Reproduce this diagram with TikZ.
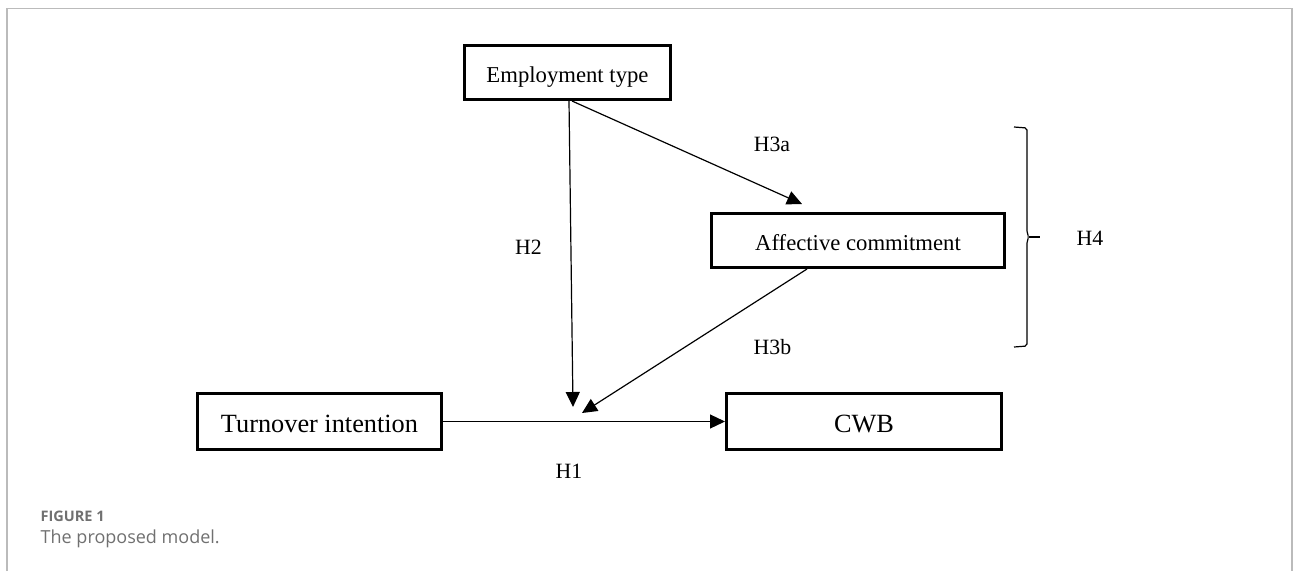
\documentclass[tikz,border=0pt]{standalone}
\usepackage{fontspec}
\setmainfont{Liberation Serif}
\newfontfamily\captionfont{Open Sans}
\usetikzlibrary{arrows.meta}
\definecolor{frameGray}{HTML}{BBBBBB}
\definecolor{captionGray}{HTML}{707070}

\begin{document}
\begin{tikzpicture}
[x=1pt,y=-1pt,
  boxDecorate/.style={draw,line width=2.8pt,inner sep=0pt,text depth=0pt},
  smallBox/.style={boxDecorate,text height=20.4pt,font=\fontsize{22.7}{27}\selectfont},
  largeBox/.style={boxDecorate,text height=21.6pt,font=\fontsize{26.3}{31}\selectfont},
  lineDecorate/.style={-{Triangle[length=15pt,width=14pt]},line width=1.2pt},
  labelDecorate/.style={inner sep=0pt,font=\fontsize{21.8}{26}\selectfont},
  captionDecorate/.style={anchor=base west,inner sep=0pt,text=captionGray}]
\useasboundingbox (0,0) rectangle (1293,571);
%% frame
\draw[draw=frameGray,line width=1.3pt] (7,571) -- (7,8.5) -- (1292,8.5) -- (1292,571);
%% boxes
\node (emp) at (567.5,72.5) [smallBox,minimum width=206.2pt,minimum height=54.2pt] {Employment type};
\node (aff) at (858,240.5) [smallBox,minimum width=293.2pt,minimum height=54.2pt] {Affective commitment};
\node (turn) at (319.5,421.5) [largeBox,minimum width=244.2pt,minimum height=56.2pt] {Turnover intention};
\node (cwb) at (864,421.5) [largeBox,minimum width=275.2pt,minimum height=56.2pt] {CWB};
%% hypothesis labels
\foreach \labelname/\x/\y/\txt in {
  h1/569/471/H1,
  h2/528.5/247/H2,
  h3a/772/144.5/H3a,
  h3b/772.5/347/H3b,
  h4/1090/238.5/H4}
{
  \node (\labelname) at (\x,\y) [labelDecorate] {\txt};
}
%% free ends of the arrows
\coordinate (h2tip) at (573,407);
\coordinate (h3atip) at (802,204);
\coordinate (h3btip) at (582,413);
%% arrows
\draw[lineDecorate] ([xshift=1.5pt]emp.south) -- (h2tip);
\draw[lineDecorate] ([xshift=4.5pt]emp.south) -- (h3atip);
\draw[lineDecorate] ([xshift=-51pt]aff.south) -- (h3btip);
\draw[lineDecorate] (turn) -- (cwb);
%% brace
\draw[line width=1.2pt,rounded corners=2pt] (1014,127) -- (1027,128) -- (1027,233)
  -- (1029,237) -- (1027,241) -- (1027,346) -- (1014,347);
\draw[line width=1.2pt] (1029,237) -- (1040,237);
%% caption
\node (figlabel) at (40.5,521.7) [captionDecorate,font=\captionfont\bfseries\fontsize{14.5}{17}\selectfont] {FIGURE 1};
\node (figcaption) at (40.5,543.3) [captionDecorate,font=\captionfont\fontsize{18}{22}\selectfont] {The proposed model.};
\end{tikzpicture}
\end{document}
